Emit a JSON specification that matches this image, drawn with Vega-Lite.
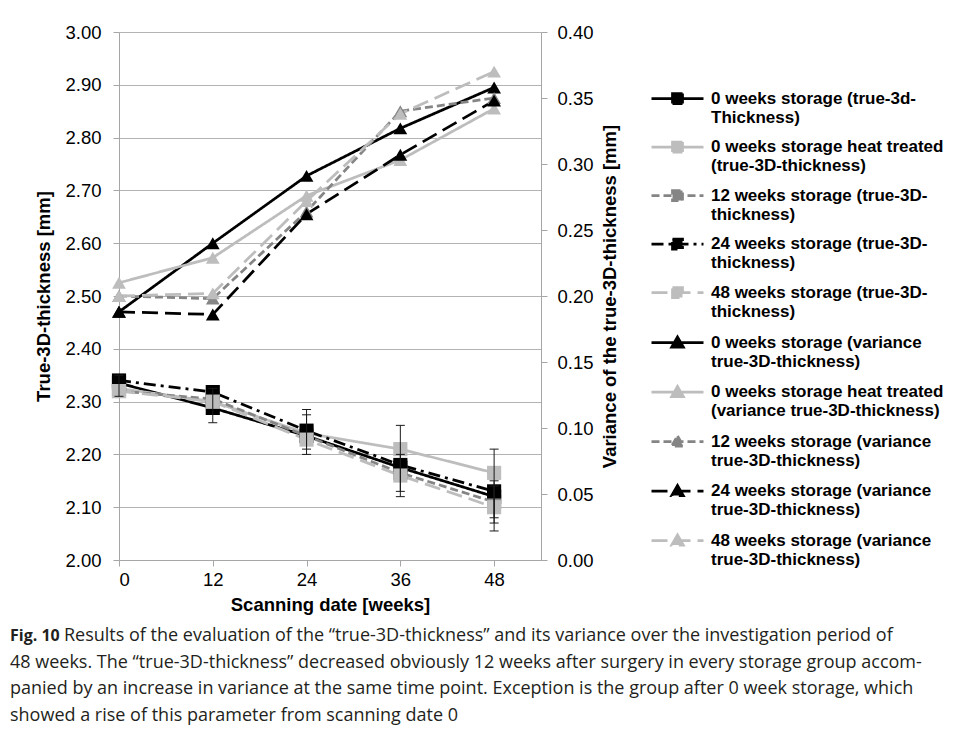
{
  "$schema": "https://vega.github.io/schema/vega-lite/v6.json",
  "autosize": {"type": "none"},
  "padding": {"left": 119, "top": 32, "right": 415, "bottom": 173},
  "width": 422,
  "height": 528,
  "background": "#ffffff",
  "title": {
    "text": "Fig. 10",
    "subtitle": [
      "\u200b\u2003\u2003\u2003Results of the evaluation of the “true-3D-thickness” and its variance over the investigation period of",
      "48 weeks. The “true-3D-thickness” decreased obviously 12 weeks after surgery in every storage group accom-",
      "panied by an increase in variance at the same time point. Exception is the group after 0 week storage, which",
      "showed a rise of this parameter from scanning date 0"
    ],
    "orient": "bottom",
    "anchor": "start",
    "frame": "bounds",
    "font": "Open Sans",
    "fontSize": 16,
    "fontWeight": "bold",
    "color": "#231f20",
    "subtitleFont": "Open Sans",
    "subtitleFontSize": 18,
    "subtitleColor": "#231f20",
    "subtitleLineHeight": 26.5,
    "subtitlePadding": -17,
    "offset": 14,
    "dx": -25
  },
  "datasets": {
    "thick": [
      {"s": "0 weeks storage (true-3d-|Thickness)", "w": 0, "v": 2.335},
      {"s": "0 weeks storage (true-3d-|Thickness)", "w": 12, "v": 2.288},
      {"s": "0 weeks storage (true-3d-|Thickness)", "w": 24, "v": 2.235},
      {"s": "0 weeks storage (true-3d-|Thickness)", "w": 36, "v": 2.175},
      {"s": "0 weeks storage (true-3d-|Thickness)", "w": 48, "v": 2.12},
      {"s": "0 weeks storage heat treated|(true-3D-thickness)", "w": 0, "v": 2.325},
      {"s": "0 weeks storage heat treated|(true-3D-thickness)", "w": 12, "v": 2.3},
      {"s": "0 weeks storage heat treated|(true-3D-thickness)", "w": 24, "v": 2.24},
      {"s": "0 weeks storage heat treated|(true-3D-thickness)", "w": 36, "v": 2.21},
      {"s": "0 weeks storage heat treated|(true-3D-thickness)", "w": 48, "v": 2.165},
      {"s": "12 weeks storage (true-3D-|thickness)", "w": 0, "v": 2.32},
      {"s": "12 weeks storage (true-3D-|thickness)", "w": 12, "v": 2.305},
      {"s": "12 weeks storage (true-3D-|thickness)", "w": 24, "v": 2.235},
      {"s": "12 weeks storage (true-3D-|thickness)", "w": 36, "v": 2.165},
      {"s": "12 weeks storage (true-3D-|thickness)", "w": 48, "v": 2.11},
      {"s": "24 weeks storage (true-3D-|thickness)", "w": 0, "v": 2.34},
      {"s": "24 weeks storage (true-3D-|thickness)", "w": 12, "v": 2.318},
      {"s": "24 weeks storage (true-3D-|thickness)", "w": 24, "v": 2.245},
      {"s": "24 weeks storage (true-3D-|thickness)", "w": 36, "v": 2.18},
      {"s": "24 weeks storage (true-3D-|thickness)", "w": 48, "v": 2.13},
      {"s": "48 weeks storage (true-3D-|thickness)", "w": 0, "v": 2.32},
      {"s": "48 weeks storage (true-3D-|thickness)", "w": 12, "v": 2.3},
      {"s": "48 weeks storage (true-3D-|thickness)", "w": 24, "v": 2.228},
      {"s": "48 weeks storage (true-3D-|thickness)", "w": 36, "v": 2.16},
      {"s": "48 weeks storage (true-3D-|thickness)", "w": 48, "v": 2.1}
    ],
    "vari": [
      {"s": "0 weeks storage (variance|true-3D-thickness)", "w": 0, "v": 0.188},
      {"s": "0 weeks storage (variance|true-3D-thickness)", "w": 12, "v": 0.24},
      {"s": "0 weeks storage (variance|true-3D-thickness)", "w": 24, "v": 0.291},
      {"s": "0 weeks storage (variance|true-3D-thickness)", "w": 36, "v": 0.327},
      {"s": "0 weeks storage (variance|true-3D-thickness)", "w": 48, "v": 0.358},
      {"s": "0 weeks storage heat treated|(variance true-3D-thickness)", "w": 0, "v": 0.21},
      {"s": "0 weeks storage heat treated|(variance true-3D-thickness)", "w": 12, "v": 0.229},
      {"s": "0 weeks storage heat treated|(variance true-3D-thickness)", "w": 24, "v": 0.276},
      {"s": "0 weeks storage heat treated|(variance true-3D-thickness)", "w": 36, "v": 0.303},
      {"s": "0 weeks storage heat treated|(variance true-3D-thickness)", "w": 48, "v": 0.342},
      {"s": "12 weeks storage (variance|true-3D-thickness)", "w": 0, "v": 0.2},
      {"s": "12 weeks storage (variance|true-3D-thickness)", "w": 12, "v": 0.198},
      {"s": "12 weeks storage (variance|true-3D-thickness)", "w": 24, "v": 0.264},
      {"s": "12 weeks storage (variance|true-3D-thickness)", "w": 36, "v": 0.34},
      {"s": "12 weeks storage (variance|true-3D-thickness)", "w": 48, "v": 0.35},
      {"s": "24 weeks storage (variance|true-3D-thickness)", "w": 0, "v": 0.188},
      {"s": "24 weeks storage (variance|true-3D-thickness)", "w": 12, "v": 0.186},
      {"s": "24 weeks storage (variance|true-3D-thickness)", "w": 24, "v": 0.262},
      {"s": "24 weeks storage (variance|true-3D-thickness)", "w": 36, "v": 0.307},
      {"s": "24 weeks storage (variance|true-3D-thickness)", "w": 48, "v": 0.348},
      {"s": "48 weeks storage (variance|true-3D-thickness)", "w": 0, "v": 0.2},
      {"s": "48 weeks storage (variance|true-3D-thickness)", "w": 12, "v": 0.202},
      {"s": "48 weeks storage (variance|true-3D-thickness)", "w": 24, "v": 0.272},
      {"s": "48 weeks storage (variance|true-3D-thickness)", "w": 36, "v": 0.338},
      {"s": "48 weeks storage (variance|true-3D-thickness)", "w": 48, "v": 0.37}
    ],
    "err": [
      {"w": 0, "lo": 2.31, "hi": 2.35},
      {"w": 12, "lo": 2.26, "hi": 2.325},
      {"w": 24, "lo": 2.2, "hi": 2.285},
      {"w": 24, "lo": 2.21, "hi": 2.275},
      {"w": 36, "lo": 2.12, "hi": 2.255},
      {"w": 36, "lo": 2.13, "hi": 2.2},
      {"w": 48, "lo": 2.055, "hi": 2.21},
      {"w": 48, "lo": 2.07, "hi": 2.15},
      {"w": 48, "lo": 2.08, "hi": 2.14}
    ]
  },
  "config": {
    "view": {"stroke": null},
    "font": "Liberation Sans",
    "axis": {
      "labelFont": "Liberation Sans",
      "labelFontSize": 18.5,
      "labelColor": "#000000",
      "titleFont": "Liberation Sans",
      "titleFontSize": 18.5,
      "titleFontWeight": "bold",
      "titleColor": "#000000",
      "domainColor": "#a6a6a6",
      "tickColor": "#a6a6a6",
      "tickSize": 6,
      "gridColor": "#b3b3b3"
    },
    "legend": {
      "orient": "none",
      "legendX": 534,
      "direction": "vertical",
      "columns": 1,
      "padding": 0,
      "labelFont": "Liberation Sans",
      "labelFontSize": 17,
      "labelFontWeight": "bold",
      "labelColor": "#000000",
      "labelLimit": 400,
      "symbolSize": 100,
      "symbolOffset": 16,
      "labelOffset": 25,
      "rowPadding": 10.5,
      "symbolStrokeWidth": 2.5
    },
    "line": {"strokeWidth": 2.75}
  },
  "encoding": {
    "x": {
      "field": "w",
      "type": "quantitative",
      "scale": {"domain": [0, 54], "nice": false, "zero": false},
      "axis": {
        "values": [0, 12, 24, 36, 48],
        "grid": false,
        "title": "Scanning date [weeks]",
        "labelPadding": 4,
        "titlePadding": 7
      }
    }
  },
  "layer": [
    {
      "encoding": {
        "color": {
          "field": "s", "type": "nominal",
          "scale": {
            "domain": [
              "0 weeks storage (true-3d-|Thickness)",
              "0 weeks storage heat treated|(true-3D-thickness)",
              "12 weeks storage (true-3D-|thickness)",
              "24 weeks storage (true-3D-|thickness)",
              "48 weeks storage (true-3D-|thickness)"
            ],
            "range": ["#000000", "#bdbdbd", "#858585", "#000000", "#bdbdbd"]
          },
          "legend": {
            "title": null,
            "legendY": 58,
            "symbolType": "M-5.2,0H5.2M-1,-1H1V1H-1Z",
            "labelExpr": "split(datum.label, '|')",
            "encode": {"labels": {"lineHeight": {"value": 20}}}
          }
        }
      },
      "layer": [
        {
          "data": {"name": "thick"},
          "mark": {"type": "line"},
          "encoding": {
            "y": {
              "field": "v", "type": "quantitative",
              "scale": {"domain": [2, 3], "nice": false, "zero": false},
              "axis": {"orient": "left", "values": [2, 2.1, 2.2, 2.3, 2.4, 2.5, 2.6, 2.7, 2.8, 2.9, 3.0], "format": ".2f", "grid": true, "title": "True-3D-thickness [mm]", "labelPadding": 12, "titlePadding": 11}
            },
            "strokeDash": {
              "field": "s", "type": "nominal",
              "scale": {
                "domain": [
                  "0 weeks storage (true-3d-|Thickness)",
                  "0 weeks storage heat treated|(true-3D-thickness)",
                  "12 weeks storage (true-3D-|thickness)",
                  "24 weeks storage (true-3D-|thickness)",
                  "48 weeks storage (true-3D-|thickness)"
                ],
                "range": [[1, 0], [1, 0], [8, 4], [12, 5, 3, 5], [16, 7]]
              },
              "legend": {
                "title": null,
                "legendY": 58,
                "symbolType": "M-5.2,0H5.2M-1,-1H1V1H-1Z",
                "labelExpr": "split(datum.label, '|')",
                "encode": {"labels": {"lineHeight": {"value": 20}}}
              }
            }
          }
        },
        {
          "data": {"name": "thick"},
          "mark": {"type": "point", "shape": "square", "filled": true, "size": 200, "opacity": 1},
          "encoding": {
            "y": {"field": "v", "type": "quantitative", "scale": {"domain": [2, 3], "nice": false, "zero": false}, "axis": {"orient": "left", "values": [2, 2.1, 2.2, 2.3, 2.4, 2.5, 2.6, 2.7, 2.8, 2.9, 3.0], "format": ".2f", "grid": true, "title": "True-3D-thickness [mm]", "labelPadding": 12, "titlePadding": 11}}
          }
        },
        {
          "data": {"name": "err"},
          "mark": {"type": "rule", "color": "#1a1a1a", "strokeWidth": 1},
          "encoding": {
            "y": {"field": "lo", "type": "quantitative", "scale": {"domain": [2, 3], "nice": false, "zero": false}, "axis": {"orient": "left", "values": [2, 2.1, 2.2, 2.3, 2.4, 2.5, 2.6, 2.7, 2.8, 2.9, 3.0], "format": ".2f", "grid": true, "title": "True-3D-thickness [mm]", "labelPadding": 12, "titlePadding": 11}},
            "y2": {"field": "hi"},
            "color": {"value": "#1a1a1a"}
          }
        },
        {
          "data": {"name": "err"},
          "mark": {"type": "tick", "orient": "horizontal", "color": "#1a1a1a", "thickness": 1, "size": 9, "opacity": 1},
          "encoding": {
            "y": {"field": "lo", "type": "quantitative", "scale": {"domain": [2, 3], "nice": false, "zero": false}, "axis": {"orient": "left", "values": [2, 2.1, 2.2, 2.3, 2.4, 2.5, 2.6, 2.7, 2.8, 2.9, 3.0], "format": ".2f", "grid": true, "title": "True-3D-thickness [mm]", "labelPadding": 12, "titlePadding": 11}},
            "color": {"value": "#1a1a1a"}
          }
        },
        {
          "data": {"name": "err"},
          "mark": {"type": "tick", "orient": "horizontal", "color": "#1a1a1a", "thickness": 1, "size": 9, "opacity": 1},
          "encoding": {
            "y": {"field": "hi", "type": "quantitative", "scale": {"domain": [2, 3], "nice": false, "zero": false}, "axis": {"orient": "left", "values": [2, 2.1, 2.2, 2.3, 2.4, 2.5, 2.6, 2.7, 2.8, 2.9, 3.0], "format": ".2f", "grid": true, "title": "True-3D-thickness [mm]", "labelPadding": 12, "titlePadding": 11}},
            "color": {"value": "#1a1a1a"}
          }
        }
      ]
    },
    {
      "encoding": {
        "color": {
          "field": "s", "type": "nominal",
          "scale": {
            "domain": [
              "0 weeks storage (variance|true-3D-thickness)",
              "0 weeks storage heat treated|(variance true-3D-thickness)",
              "12 weeks storage (variance|true-3D-thickness)",
              "24 weeks storage (variance|true-3D-thickness)",
              "48 weeks storage (variance|true-3D-thickness)"
            ],
            "range": ["#000000", "#bdbdbd", "#858585", "#000000", "#bdbdbd"]
          },
          "legend": {
            "title": null,
            "legendY": 302,
            "symbolType": "M-5.2,0H5.2M0,-1.1L1.15,0.9H-1.15Z",
            "labelExpr": "split(datum.label, '|')",
            "encode": {"labels": {"lineHeight": {"value": 20}}}
          }
        }
      },
      "layer": [
        {
          "data": {"name": "vari"},
          "mark": {"type": "line"},
          "encoding": {
            "y": {"field": "v", "type": "quantitative", "scale": {"domain": [0, 0.4], "nice": false}, "axis": {"orient": "right", "values": [0, 0.05, 0.1, 0.15, 0.2, 0.25, 0.3, 0.35, 0.4], "format": ".2f", "grid": false, "title": "Variance of the true-3D-thickness [mm]", "titleAngle": 270, "titleBaseline": "top", "labelPadding": 10, "titlePadding": 7}},
            "strokeDash": {
              "field": "s", "type": "nominal",
              "scale": {
                "domain": [
                  "0 weeks storage (variance|true-3D-thickness)",
                  "0 weeks storage heat treated|(variance true-3D-thickness)",
                  "12 weeks storage (variance|true-3D-thickness)",
                  "24 weeks storage (variance|true-3D-thickness)",
                  "48 weeks storage (variance|true-3D-thickness)"
                ],
                "range": [[1, 0], [1, 0], [8, 4], [16, 7], [16, 7]]
              },
              "legend": {
                "title": null,
                "legendY": 302,
                "symbolType": "M-5.2,0H5.2M0,-1.1L1.15,0.9H-1.15Z",
                "labelExpr": "split(datum.label, '|')",
                "encode": {"labels": {"lineHeight": {"value": 20}}}
              }
            }
          }
        },
        {
          "data": {"name": "vari"},
          "mark": {"type": "point", "shape": "triangle-up", "filled": true, "size": 190, "opacity": 1},
          "encoding": {
            "y": {"field": "v", "type": "quantitative", "scale": {"domain": [0, 0.4], "nice": false}, "axis": {"orient": "right", "values": [0, 0.05, 0.1, 0.15, 0.2, 0.25, 0.3, 0.35, 0.4], "format": ".2f", "grid": false, "title": "Variance of the true-3D-thickness [mm]", "titleAngle": 270, "titleBaseline": "top", "labelPadding": 10, "titlePadding": 7}}
          }
        }
      ]
    }
  ],
  "resolve": {
    "scale": {"y": "independent", "color": "independent", "strokeDash": "independent"},
    "axis": {"y": "independent"},
    "legend": {"color": "independent", "strokeDash": "independent"}
  }
}
